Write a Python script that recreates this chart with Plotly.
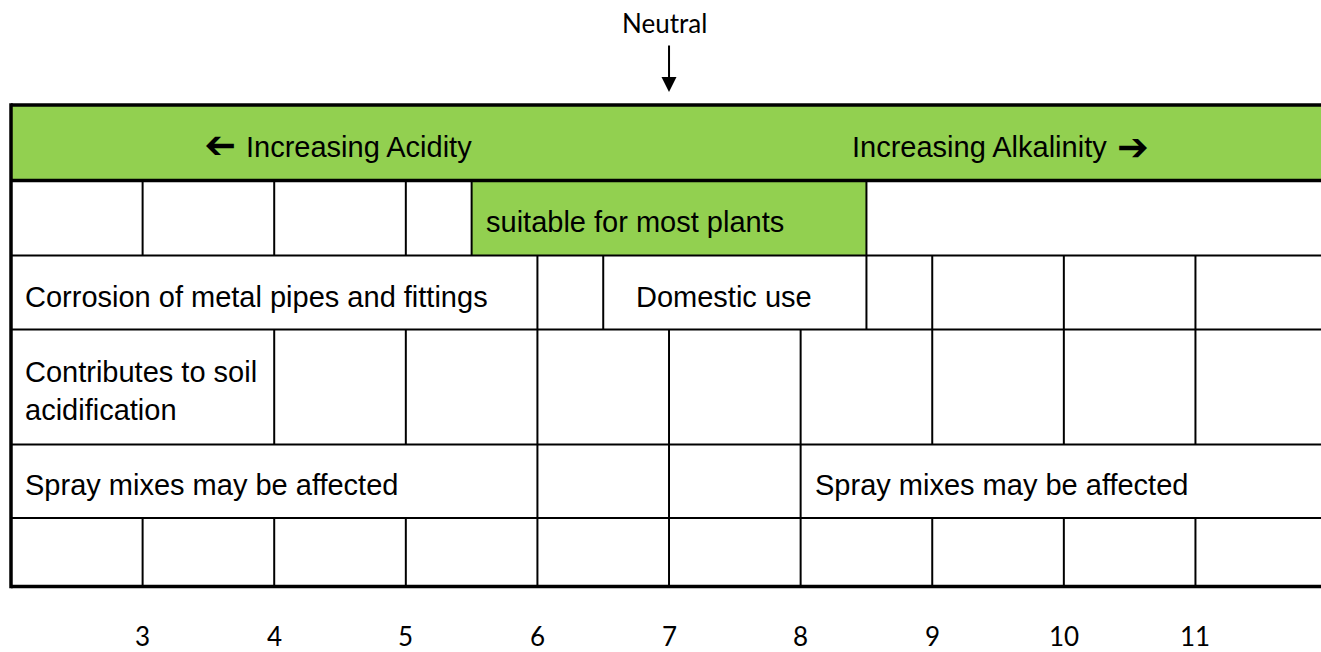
import plotly.graph_objects as go

# ---------------- data ----------------
ph_ticks = [3, 4, 5, 6, 7, 8, 9, 10, 11]
tick_labels = ["3", "4", "5", "6", "7", "8", "9", "10", "11"]
scale_start = 2
scale_end = 12
neutral_ph = 7
neutral_label = "Neutral"
header_labels = ["Increasing Acidity", "Increasing Alkalinity"]
header_centers = [4.5, 9.5]

row1_bounds = [2, 3, 4, 5, 5.5, 8.5, 12]
row1_texts = ["", "", "", "", "suitable for most plants", ""]
row1_green = [False, False, False, False, True, False]

row2_bounds = [2, 6, 6.5, 8.5, 9, 10, 11, 12]
row2_texts = ["Corrosion of metal pipes and fittings", "", "Domestic use", "", "", "", ""]
row2_green = [False, False, False, False, False, False, False]

row3_bounds = [2, 4, 5, 6, 7, 8, 9, 10, 11, 12]
row3_texts = ["Contributes to soil<br>acidification", "", "", "", "", "", "", "", ""]
row3_green = [False, False, False, False, False, False, False, False, False]

row4_bounds = [2, 6, 7, 8, 12]
row4_texts = ["Spray mixes may be affected", "", "", "Spray mixes may be affected"]
row4_green = [False, False, False, False]

row5_bounds = [2, 3, 4, 5, 6, 7, 8, 9, 10, 11, 12]
row5_texts = ["", "", "", "", "", "", "", "", "", ""]
row5_green = [False, False, False, False, False, False, False, False, False, False]

rows = [
    (row1_bounds, row1_texts, row1_green),
    (row2_bounds, row2_texts, row2_green),
    (row3_bounds, row3_texts, row3_green),
    (row4_bounds, row4_texts, row4_green),
    (row5_bounds, row5_texts, row5_green),
]

# ---------------- layout / style ----------------
W, H = 1321, 652
GREEN = "#92D050"
X_RANGE = [1.9164, 11.954]
Y_RANGE = [H, 0]
row_edges = [105, 180.5, 255.5, 329.5, 444.5, 518, 586.5]
THIN, THICK = 2, 3.5
TEXT_DY = 4
CELL_FONT = dict(family="Liberation Sans, Arial, sans-serif", size=29, color="black")
LABEL_FONT = dict(family="Lato, Calibri, sans-serif", size=26, color="black")
ARROW_FONT = dict(family="DejaVu Sans, sans-serif", size=38, color="black", weight="bold")
text_pad = {(1, 2): 33}
default_pad = 14
header_text_shift = [19, -19]
header_arrow_shift = [-119.5, 134.5]
neutral_y = 22.5
scale_label_y = 636

fig = go.Figure()
shapes = []
annotations = []

# green fills
shapes.append(dict(type="rect", xref="x", yref="y", x0=scale_start, x1=scale_end,
                   y0=row_edges[0], y1=row_edges[1], fillcolor=GREEN, line=dict(width=0)))
for r, (bounds, texts, greens) in enumerate(rows):
    for i, g in enumerate(greens):
        if g:
            shapes.append(dict(type="rect", xref="x", yref="y", x0=bounds[i], x1=bounds[i + 1],
                               y0=row_edges[r + 1], y1=row_edges[r + 2],
                               fillcolor=GREEN, line=dict(width=0)))

# horizontal rules
for k, yv in enumerate(row_edges):
    w = THICK if k in (0, 1, len(row_edges) - 1) else THIN
    shapes.append(dict(type="line", xref="x", yref="y", x0=scale_start, x1=scale_end,
                       y0=yv, y1=yv, line=dict(color="black", width=w)))

# vertical cell dividers
for r, (bounds, texts, greens) in enumerate(rows):
    for b in bounds[1:-1]:
        shapes.append(dict(type="line", xref="x", yref="y", x0=b, x1=b,
                           y0=row_edges[r + 1], y1=row_edges[r + 2],
                           line=dict(color="black", width=THIN)))

# left outer border
shapes.append(dict(type="line", xref="x", yref="y", x0=scale_start, x1=scale_start,
                   y0=row_edges[0] - THICK / 2, y1=row_edges[-1] + THICK / 2,
                   line=dict(color="black", width=THICK)))

# cell texts
for r, (bounds, texts, greens) in enumerate(rows):
    top, bot = row_edges[r + 1], row_edges[r + 2]
    for i, t in enumerate(texts):
        if t:
            annotations.append(dict(x=bounds[i], y=(top + bot) / 2 + TEXT_DY, xref="x", yref="y",
                                    text=t, showarrow=False, xanchor="left", yanchor="middle",
                                    align="left", xshift=text_pad.get((r, i), default_pad),
                                    font=CELL_FONT, borderpad=0, borderwidth=0))

# header texts and arrows
hy = (row_edges[0] + row_edges[1]) / 2 + TEXT_DY
for k, lab in enumerate(header_labels):
    annotations.append(dict(x=header_centers[k], y=hy, xref="x", yref="y", text=lab,
                            showarrow=False, xanchor="center", yanchor="middle",
                            xshift=header_text_shift[k], font=CELL_FONT, borderpad=0, borderwidth=0))
    annotations.append(dict(x=header_centers[k], y=hy, xref="x", yref="y", text="➔",
                            showarrow=False, xanchor="center", yanchor="middle",
                            textangle=180 if k == 0 else 0,
                            xshift=header_arrow_shift[k], font=ARROW_FONT, borderpad=0, borderwidth=0))

# neutral marker
annotations.append(dict(x=neutral_ph, y=neutral_y, xref="x", yref="y", text=neutral_label,
                        showarrow=False, xanchor="center", yanchor="middle", xshift=-5,
                        font=LABEL_FONT, borderpad=0, borderwidth=0))
annotations.append(dict(x=neutral_ph, y=92, xref="x", yref="y", text="",
                        showarrow=True, ax=0, ay=-48, arrowhead=2, arrowsize=1.5,
                        arrowwidth=2, arrowcolor="black", standoff=0))

# pH scale labels
for v, lab in zip(ph_ticks, tick_labels):
    annotations.append(dict(x=v, y=scale_label_y, xref="x", yref="y", text=lab, showarrow=False,
                            xanchor="center", yanchor="middle", font=LABEL_FONT,
                            borderpad=0, borderwidth=0))

fig.update_layout(
    width=W, height=H, autosize=False,
    margin=dict(l=0, r=0, t=0, b=0, pad=0),
    paper_bgcolor="white", plot_bgcolor="white",
    xaxis=dict(range=X_RANGE, visible=False, fixedrange=True),
    yaxis=dict(range=Y_RANGE, visible=False, fixedrange=True),
    shapes=shapes, annotations=annotations, showlegend=False,
)

fig.write_html("out.html", config={"displayModeBar": False},
               post_script="document.body.style.margin='0';document.body.style.overflow='hidden';")
